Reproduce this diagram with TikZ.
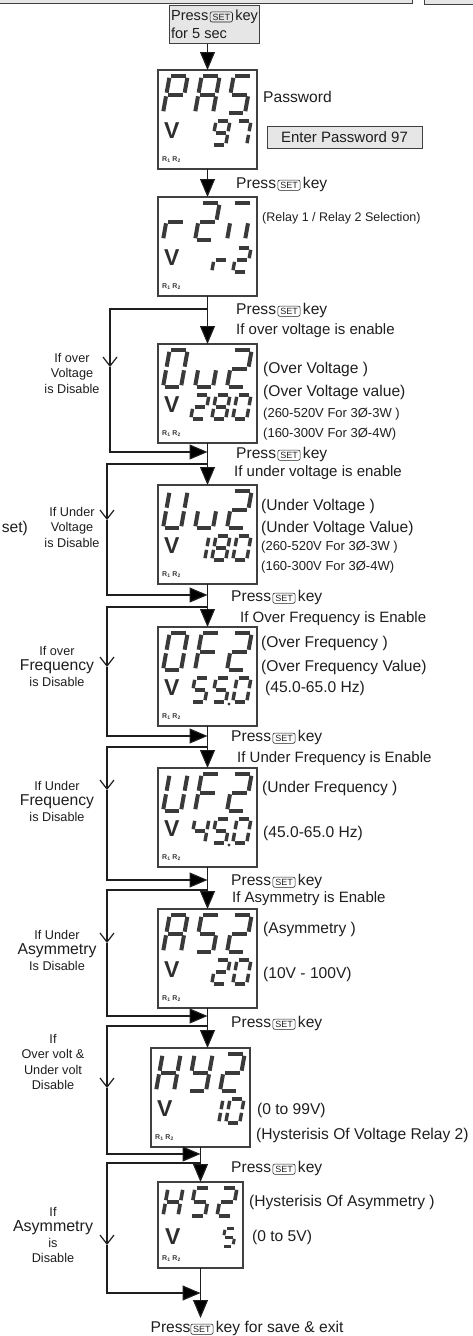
\documentclass[tikz,border=0pt]{standalone}
\usepackage{fontspec}
\setmainfont{Liberation Sans}
\usepackage{tikz}
\usetikzlibrary{arrows.meta,positioning}

\definecolor{ink}{HTML}{1E1E1E}
\definecolor{lcd}{HTML}{3A3A3A}
\definecolor{keyfill}{HTML}{E6E6E6}
\definecolor{frame}{HTML}{404040}

% the SET key as it is printed in the text
\newcommand{\setkey}{\tikz[baseline=(sk.base)]\node[draw=ink, fill=none, line width=0.6pt, rounded corners=2pt,
 minimum width=0pt, minimum height=0pt, outer sep=0pt, align=center, text=ink,
 inner xsep=2.4pt, inner ysep=1.8pt, anchor=center, text height=6.6pt, text depth=0pt,
 font=\fontsize{9}{9}\selectfont] (sk) {SET};}
\newcommand{\presskey}{Press\hspace{1.5pt}\setkey\hspace{2.5pt}key}

% seven segment glyphs
\newcommand{\segG}{1.8}
\newcommand{\sega}{\draw (\segG,-\segH) -- (\segW-\segG,-\segH);}
\newcommand{\segb}{\draw (\segW,-\segH+\segG) -- (\segW,-\segH/2-\segG);}
\newcommand{\segc}{\draw (\segW,-\segH/2+\segG) -- (\segW,-\segG);}
\newcommand{\segd}{\draw (\segG,0) -- (\segW-\segG,0);}
\newcommand{\sege}{\draw (0,-\segG) -- (0,-\segH/2+\segG);}
\newcommand{\segf}{\draw (0,-\segH/2-\segG) -- (0,-\segH+\segG);}
\newcommand{\segg}{\draw (\segG,-\segH/2) -- (\segW-\segG,-\segH/2);}
\newcommand{\chP}{a,b,e,f,g}
\newcommand{\chA}{a,b,c,e,f,g}
\newcommand{\chS}{a,c,d,f,g}
\newcommand{\chr}{e,g}
\newcommand{\chn}{a,c,e}
\newcommand{\chO}{a,b,c,d,e,f}
\newcommand{\chu}{c,d,e}
\newcommand{\chU}{b,c,d,e,f}
\newcommand{\chF}{a,e,f,g}
\newcommand{\chH}{b,c,e,f,g}
\newcommand{\chY}{b,c,d,f,g}
\newcommand{\chOne}{b,c}
\newcommand{\chTwo}{a,b,d,e,g}
\newcommand{\chFour}{b,c,f,g}
\newcommand{\chSeven}{a,b,c}
\newcommand{\chEight}{a,b,c,d,e,f,g}
\newcommand{\chNine}{a,b,c,d,f,g}
% box, dx, baseline, width, height, line width, glyph
\newcommand{\lcdch}[7]{%
 \if\relax\detokenize{#7}\relax\else
 \expandafter\let\expandafter\chcur\csname ch#7\endcsname
 \begin{scope}[shift={(#1.north west)}, shift={(#2,#3)}, xslant=0.18, line width=#6, color=lcd]
 \def\segW{#4}\def\segH{#5}
 \foreach \s in \chcur {\csname seg\s\endcsname}
 \end{scope}\fi}
\newcommand{\lcdtop}[4]{\lcdch{#1}{5}{43}{18}{37}{4pt}{#2}%
 \lcdch{#1}{37}{43}{18}{37}{4pt}{#3}\lcdch{#1}{69}{43}{18}{37}{4pt}{#4}}
\newcommand{\lcdlow}[4]{\lcdch{#1}{32.7}{75}{14}{24}{3.4pt}{#2}%
 \lcdch{#1}{53.7}{75}{14}{24}{3.4pt}{#3}\lcdch{#1}{74.7}{75}{14}{24}{3.4pt}{#4}}
\newcommand{\lcdmark}[1]{%
 \node[vmark] (#1-v) at ([shift={(6,61)}]#1.north west) {V};
 \node[rmark] (#1-r) at ([shift={(4,90)}]#1.north west) {R\textsubscript{1} R\textsubscript{2}};}

\begin{document}
\begin{tikzpicture}[x=1pt, y=-1pt, font=\fontsize{15.6}{18.6}\selectfont, text=ink,
 disp/.style={draw=frame, line width=1.2pt, minimum width=99pt, minimum height=99pt, inner sep=0pt, outer sep=0pt},
 keybox/.style={draw=frame, fill=keyfill, line width=1pt},
 lbl/.style={anchor=base west, inner sep=0pt},
 cond/.style={lbl, font=\fontsize{15}{18}\selectfont},
 spanlbl/.style={lbl, font=\fontsize{13}{15}\selectfont},
 side/.style={align=center, inner sep=0pt, font=\fontsize{12.7}{15.5}\selectfont},
 vmark/.style={anchor=west, inner sep=0pt, text=lcd!80!black, font=\fontsize{23}{23}\selectfont\bfseries},
 rmark/.style={anchor=west, inner sep=0pt, text=lcd, font=\fontsize{7}{7}\selectfont\bfseries},
 flow/.style={draw=ink, line width=1.2pt, -{Triangle[length=18pt,width=15pt]}},
 skipline/.style={draw=ink, line width=1.2pt, -{Straight Barb[length=9pt,width=14pt]}}]
\useasboundingbox (0,0) rectangle (473,1336);
\clip (0,0) rectangle (473,1336);

% boxes cut by the top edge
\draw[keybox] (-5,-20) rectangle (412,3.5);
\draw[keybox] (424,-20) rectangle (480,4.5);

\node[keybox, align=left, minimum width=87pt, minimum height=38pt, inner sep=2pt,
 font=\fontsize{14.6}{18}\selectfont] (start) at (214.5,24) {\presskey\\for 5 sec};

% displays
\node[disp] (pas) at (207.5,119.5) {};
\node[disp, below=28pt of pas] (r2) {};
\node[disp, below=48pt of r2] (ou2) {};
\node[disp, below=42pt of ou2] (uu2) {};
\node[disp, below=43pt of uu2] (of2) {};
\node[disp, below=42pt of of2] (uf2) {};
\node[disp, below=42pt of uf2] (as2) {};
\node[disp, below=40pt of as2, xshift=-7pt] (hy2) {};
\node[disp, below=35pt of hy2, minimum width=85pt, minimum height=86pt] (hs2) {};

\lcdtop{pas}{P}{A}{S} \lcdlow{pas}{}{Nine}{Seven} \lcdmark{pas}
\lcdtop{r2}{r}{Two}{n} \lcdlow{r2}{}{r}{Two} \lcdmark{r2}
\lcdtop{ou2}{O}{u}{Two} \lcdlow{ou2}{Two}{Eight}{O} \lcdmark{ou2}
\lcdtop{uu2}{U}{u}{Two} \lcdlow{uu2}{One}{Eight}{O} \lcdmark{uu2}
\lcdtop{of2}{O}{F}{Two} \lcdlow{of2}{S}{S}{O} \lcdmark{of2}
\lcdtop{uf2}{U}{F}{Two} \lcdlow{uf2}{Four}{S}{O} \lcdmark{uf2}
\lcdtop{as2}{A}{S}{Two} \lcdlow{as2}{}{Two}{O} \lcdmark{as2}
\lcdtop{hy2}{H}{Y}{Two} \lcdlow{hy2}{}{One}{O} \lcdmark{hy2}
\fill[lcd] ([shift={(71,77)}]of2.north west) circle (1.6);
\fill[lcd] ([shift={(71,77)}]uf2.north west) circle (1.6);
\lcdch{hs2}{5}{34}{15}{28}{3.6pt}{H}\lcdch{hs2}{32}{34}{15}{28}{3.6pt}{S}\lcdch{hs2}{59}{34}{15}{28}{3.6pt}{Two}
\lcdch{hs2}{64}{64}{11}{18}{3pt}{S}
\node[vmark] (hs2-v) at ([shift={(7,55)}]hs2.north west) {V};
\node[rmark] (hs2-r) at ([shift={(4,77)}]hs2.north west) {R\textsubscript{1} R\textsubscript{2}};

% main path
\draw[flow] (start.south -| pas.north) -- (pas.north);
\draw[flow] (pas.south) -- (r2.north);
\draw[flow] (r2.south) -- (ou2.north);
\draw[flow] (ou2.south) -- (uu2.north);
\draw[flow] (uu2.south) -- (of2.north);
\draw[flow] (of2.south) -- (uf2.north);
\draw[flow] (uf2.south) -- (as2.north);
\draw[flow] (as2.south) -- (as2.south |- hy2.north);
\draw[flow] (hy2.south) -- (hs2.north);

% skips round disabled steps
\foreach \n/\bx/\by/\lx/\vy/\mx/\my in {1/207.5/309/110/367/207.5/452, 2/207.5/464/107/520/207.5/595,
 3/207.5/607/107/667/207.5/736, 4/207.5/747/107/790/207.5/880, 5/207.5/890/107/943/207.5/1016,
 6/207.5/1026/107/1088/200.5/1154, 7/200.5/1163/107/1245/200.5/1293} {
 \coordinate (br\n) at (\bx,\by);
 \coordinate (lv\n) at (\lx,\vy);
 \coordinate (mg\n) at (\mx,\my);
 \draw[skipline] (br\n) -| (lv\n);
 \draw[flow] (lv\n) |- (mg\n);
}

% texts right of the flow
\node[lbl] (pwd) at (263,102.5) {Password};
\node[keybox, minimum width=155pt, minimum height=22pt, inner sep=0pt, font=\fontsize{15}{18}\selectfont] (epw) at (344.5,137) {Enter Password 97};
\node[lbl] (k1) at (236,188.5) {\presskey};
\node[lbl, font=\fontsize{12.5}{15}\selectfont] (rly) at (262,221.5) {(Relay 1 / Relay 2 Selection)};
\node[lbl] (k2) at (236,314.5) {\presskey};
\node[cond] (c1) at (236,334.4) {If over voltage is enable};
\node[lbl] (t1) at (263,373.5) {(Over Voltage )};
\node[lbl] (t2) at (263,396.5) {(Over Voltage value)};
\node[spanlbl] (t3) at (263,417.7) {(260-520V For 3Ø-3W )};
\node[spanlbl] (t4) at (263,437.7) {(160-300V For 3Ø-4W)};
\node[lbl] (k3) at (236,458.5) {\presskey};
\node[cond] (c2) at (234,476.4) {If under voltage is enable};
\node[lbl] (t5) at (261,510.5) {(Under Voltage )};
\node[lbl] (t6) at (261,532.5) {(Under Voltage Value)};
\node[spanlbl] (t7) at (261,550.7) {(260-520V For 3Ø-3W )};
\node[spanlbl] (t8) at (261,570.7) {(160-300V For 3Ø-4W)};
\node[lbl] (k4) at (231,601.5) {\presskey};
\node[cond] (c3) at (240,622.4) {If Over Frequency is Enable};
\node[lbl] (t9) at (261,647.5) {(Over Frequency )};
\node[lbl] (t10) at (261,671.5) {(Over Frequency Value)};
\node[lbl] (t11) at (265,692.5) {(45.0-65.0 Hz)};
\node[lbl] (k5) at (231,741.5) {\presskey};
\node[cond] (c4) at (237,762.4) {If Under Frequency is Enable};
\node[lbl] (t12) at (262,792.5) {(Under Frequency )};
\node[lbl] (t13) at (263,837.5) {(45.0-65.0 Hz)};
\node[lbl] (k6) at (231,885.5) {\presskey};
\node[cond] (c5) at (232,902.4) {If Asymmetry is Enable};
\node[lbl] (t14) at (263,933.5) {(Asymmetry )};
\node[lbl] (t15) at (263,978.5) {(10V - 100V)};
\node[lbl] (k7) at (231,1027.5) {\presskey};
\node[lbl] (t16) at (257,1114.5) {(0 to 99V)};
\node[lbl] (t17) at (256,1139.5) {(Hysterisis Of Voltage Relay 2)};
\node[lbl] (k8) at (231,1172.5) {\presskey};
\node[lbl] (t18) at (249,1206.5) {(Hysterisis Of Asymmetry )};
\node[lbl] (t19) at (252,1241.5) {(0 to 5V)};
\node[lbl, anchor=base, inner ysep=3pt] (exit) at (247,1332.5) {Press\setkey\hspace{2.5pt}key for save \& exit};
\draw[flow] (hs2.south) -- (hs2.south |- exit.north);

% texts left of the flow
\node[lbl, anchor=base east] (cut) at (28,532.5) {set)};
\node[side] (s1) at (72,373) {If over\\Voltage\\is Disable};
\node[side] (s2) at (72,527) {If Under\\Voltage\\is Disable};
\node[side] (s3) at (57,666) {If over\\{\fontsize{15.7}{18}\selectfont Frequency}\\is Disable};
\node[side] (s4) at (57,801) {If Under\\{\fontsize{15.7}{18}\selectfont Frequency}\\is Disable};
\node[side] (s5) at (57,950) {If Under\\{\fontsize{15.8}{18}\selectfont Asymmetry}\\Is Disable};
\node[side] (s6) at (53,1062) {If\\Over volt \&\\Under volt\\Disable};
\node[side] (s7) at (53,1235) {If\\{\fontsize{16}{18}\selectfont Asymmetry}\\is\\Disable};
\end{tikzpicture}
\end{document}
